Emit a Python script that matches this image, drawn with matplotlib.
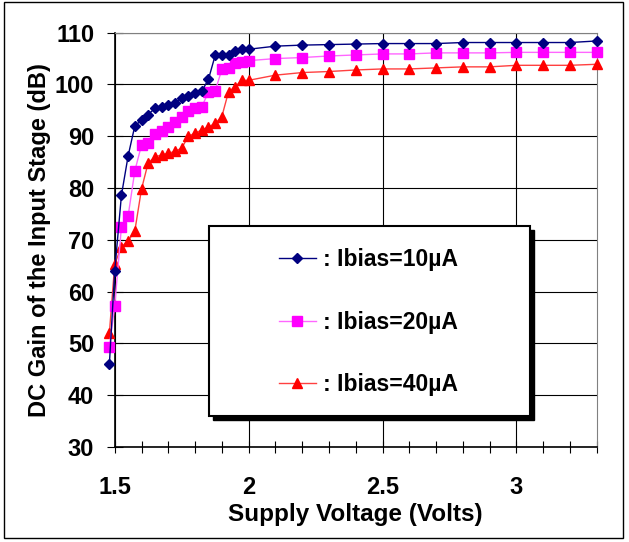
import matplotlib
matplotlib.use("Agg")
import matplotlib.pyplot as plt
from matplotlib.patches import Rectangle
from matplotlib.ticker import MultipleLocator

plt.rcParams['font.family'] = ['Liberation Sans', 'DejaVu Sans']
plt.rcParams['font.weight'] = 'bold'

# supply voltage points (V)
volts = [1.48, 1.5, 1.525, 1.55, 1.575, 1.6, 1.625, 1.65, 1.675, 1.7,
         1.725, 1.75, 1.775, 1.8, 1.825, 1.85, 1.875, 1.9, 1.925, 1.95,
         1.975, 2.0, 2.1, 2.2, 2.3, 2.4, 2.5, 2.6, 2.7, 2.8, 2.9, 3.0,
         3.1, 3.2, 3.3]

# DC gain (dB) for each bias current
gain_10u = [46.0, 64.0, 78.6, 86.2, 92.0, 93.1, 94.2, 95.4, 95.6, 96.0,
            96.5, 97.3, 97.8, 98.3, 98.7, 101.0, 105.6, 105.6, 105.6, 106.4,
            106.8, 106.8, 107.4, 107.6, 107.7, 107.8, 107.9, 107.9, 107.9, 108.1,
            108.1, 108.1, 108.1, 108.1, 108.4]
gain_20u = [49.4, 57.3, 72.5, 74.6, 83.3, 88.3, 88.7, 90.4, 91.0, 91.8,
            92.8, 93.8, 94.9, 95.4, 95.7, 98.5, 98.7, 102.9, 103.1, 104.1,
            104.4, 104.6, 105.0, 105.2, 105.5, 105.7, 105.9, 105.9, 106.1, 106.1,
            106.1, 106.2, 106.2, 106.2, 106.2]
gain_40u = [52.0, 65.3, 68.7, 69.8, 71.7, 79.8, 84.9, 86.0, 86.4, 86.7,
            87.1, 87.7, 90.0, 90.6, 91.2, 91.8, 92.5, 93.8, 98.6, 99.6,
            100.8, 100.8, 101.8, 102.3, 102.5, 102.8, 103.0, 103.0, 103.2, 103.4,
            103.4, 103.7, 103.7, 103.7, 103.9]

labels = [": Ibias=10\u00b5A", ": Ibias=20\u00b5A", ": Ibias=40\u00b5A"]

fig = plt.figure(figsize=(6.29, 5.42), dpi=100)
ax = fig.add_axes([0.1824, 0.1753, 0.7663, 0.7644])

ax.plot(volts, gain_10u, color='#000080', lw=1, marker='D', ms=5.5,
        mfc='#000080', mec='#000080', label=labels[0], clip_on=False, zorder=5)
ax.plot(volts, gain_20u, color='#FF66FF', lw=1, marker='s', ms=6.5,
        mfc='#FF00FF', mec='#FF00FF', label=labels[1], clip_on=False, zorder=4)
ax.plot(volts, gain_40u, color='#FF4040', lw=1, marker='^', ms=7,
        mfc='#FF0000', mec='#FF0000', label=labels[2], clip_on=False, zorder=3)

ax.set_xlim(1.5, 3.3)
ax.set_ylim(30, 110)
ax.xaxis.set_minor_locator(MultipleLocator(0.1))
ax.yaxis.set_major_locator(MultipleLocator(10))
ax.set_xticks([1.5, 2, 2.5, 3])
ax.set_xticklabels(['1.5', '2', '2.5', '3'])

ax.grid(True, which='major', color='black', lw=0.8)
ax.tick_params(axis='both', which='both', direction='inout', labelsize=17,
               color='black', width=0.8)
ax.tick_params(axis='x', which='major', length=8, pad=17)
ax.tick_params(axis='x', which='minor', length=8)
ax.tick_params(axis='y', which='major', length=11.5, pad=9)
for side in ['top', 'right']:
    ax.spines[side].set_color('#808080')
for side in ['left', 'bottom']:
    ax.spines[side].set_color('black')
    ax.spines[side].set_linewidth(1.2)

ax.set_xlabel('Supply Voltage (Volts)', fontsize=17.5, fontweight='bold', labelpad=3)
ax.set_ylabel('DC Gain of the Input Stage (dB)', fontsize=17, fontweight='bold', labelpad=3)

# legend box with a black drop shadow
bx0, by0, bw, bh = 0.1956, 0.0748, 0.666, 0.4586
ax.add_patch(Rectangle((bx0 + 0.0083, by0 - 0.0097), bw, bh, transform=ax.transAxes,
                       facecolor='black', edgecolor='black', zorder=6, clip_on=False))
ax.add_patch(Rectangle((bx0, by0), bw, bh, transform=ax.transAxes,
                       facecolor='white', edgecolor='black', lw=1.5, zorder=7, clip_on=False))

leg = ax.legend(loc='upper left', bbox_to_anchor=(0.3408, 0.48), frameon=False,
                fontsize=16.5, labelspacing=1.72, borderpad=0, handlelength=1.6,
                handletextpad=0.3, borderaxespad=0)
leg.set_zorder(8)
for t in leg.get_texts():
    t.set_fontweight('bold')

# thin border round the whole figure
fig.patches.append(Rectangle((0.007, 0.007), 0.984, 0.99, transform=fig.transFigure,
                             fill=False, edgecolor='black', lw=1))

fig.savefig('out.png', dpi=100)
